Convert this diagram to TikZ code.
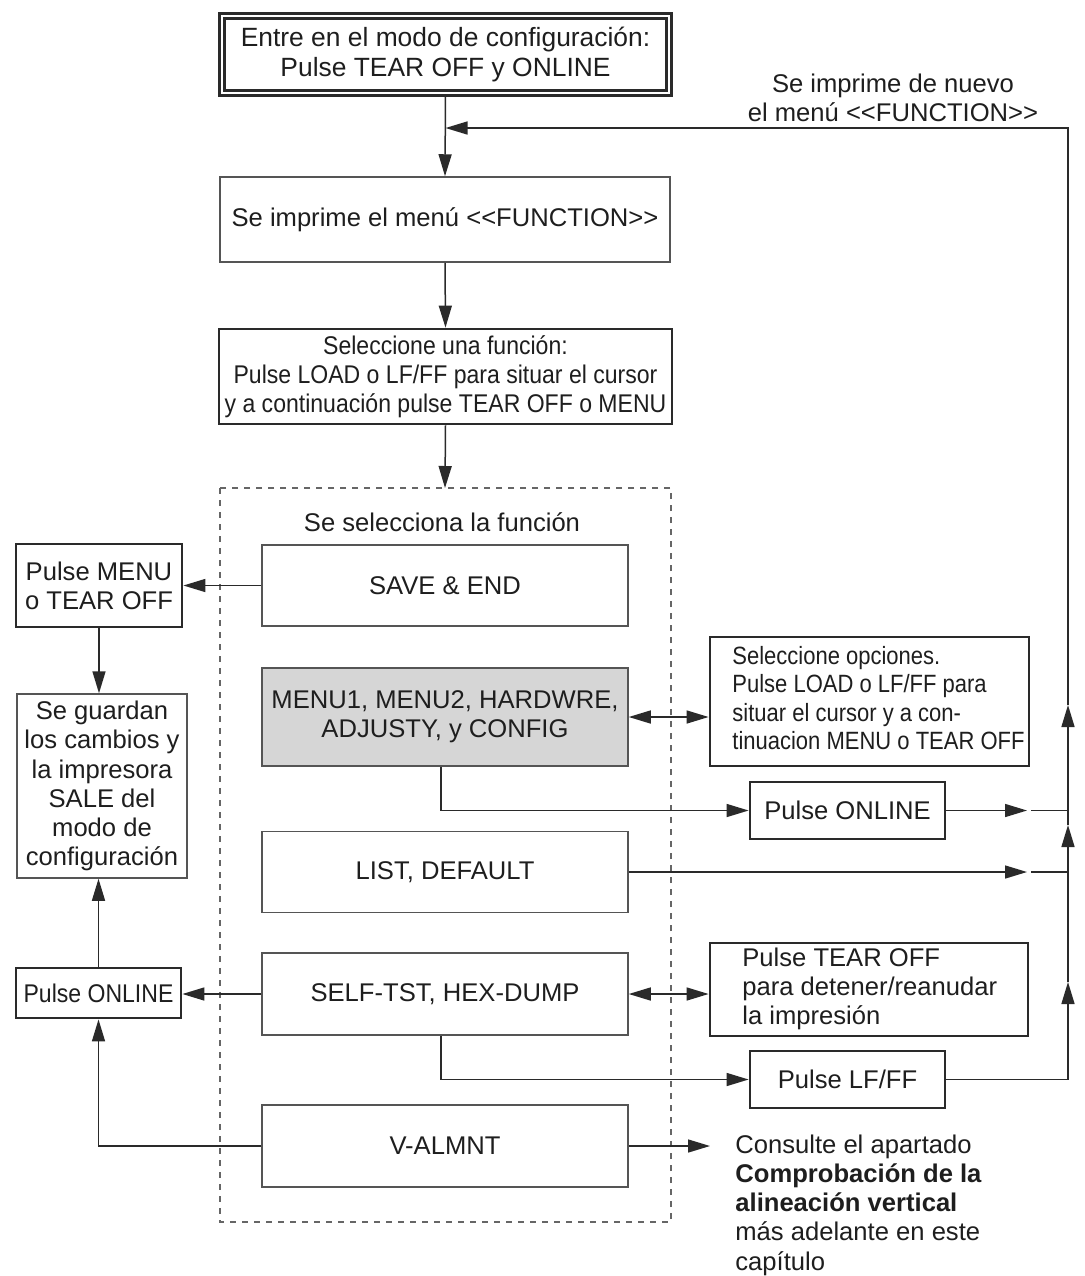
\documentclass[tikz,border=0pt]{standalone}
\usepackage{fontspec}
\setmainfont{Liberation Sans}
\newfontfamily\condfont[FakeStretch=0.88]{Liberation Sans}
\newfontfamily\narrowfont[FakeStretch=0.9]{Liberation Sans}
\usetikzlibrary{arrows.meta}
\definecolor{ink}{HTML}{2A2A2A}
\definecolor{txt}{HTML}{1E1E1E}
\definecolor{boxgray}{HTML}{555555}
\definecolor{dashgray}{HTML}{666666}
\definecolor{fillgray}{HTML}{D6D6D6}
\newcommand{\ltlt}{<\kern0pt<}
\newcommand{\gtgt}{>\kern0pt>}
\begin{document}
\begin{tikzpicture}[x=0.5pt,y=-0.5pt,
  every node/.style={font=\fontsize{12.8}{14.6}\selectfont, text=txt, inner sep=0pt},
  thinbox/.style={draw=boxgray, line width=0.75pt, align=center},
  thickbox/.style={draw=ink, line width=1.4pt, align=center},
  conn/.style={draw=ink, line width=0.75pt},
  arr/.style={conn, -{Triangle[length=11pt,width=6.5pt]}},
  darr/.style={conn, {Triangle[length=11pt,width=6.5pt]}-{Triangle[length=11pt,width=6.5pt]}},
  dashbox/.style={draw=dashgray, line width=0.7pt, dash pattern=on 3pt off 3pt},
  lefttext/.style={align=left, anchor=west}
]
\useasboundingbox[fill=white] (0,0) rectangle (1084,1276);

% main column
\node[draw=ink, double, double distance=1.2pt, line width=1.3pt, align=center,
      minimum width=223.5pt, minimum height=38.5pt, font=\fontsize{13.2}{15}\selectfont] (top) at (445.5,54.5)
      {Entre en el modo de configuración:\\Pulse TEAR OFF y ONLINE};
\node[thinbox, minimum width=225pt, minimum height=42.5pt] (menu) at (445,219.5)
      {Se imprime el menú \ltlt FUNCTION\gtgt};
\node[thickbox, minimum width=226.5pt, minimum height=47.5pt, font=\narrowfont\fontsize{12.8}{14.6}\selectfont] (selfun) at (445.5,376.5)
      {Seleccione una función:\\Pulse LOAD o LF/FF para situar el cursor\\y a continuación pulse TEAR OFF o MENU};

% dashed group
\draw[dashbox] (220,488) rectangle (671,1222);
\coordinate (dtop) at (445,488);
\node (seltxt) at (442,522) {Se selecciona la función};
\node[thinbox, minimum width=183pt, minimum height=40.5pt] (save) at (445,585.5) {SAVE \& END};
\node[thinbox, fill=fillgray, minimum width=183pt, minimum height=49pt] (menus) at (445,717)
      {MENU1, MENU2, HARDWRE,\\ADJUSTY, y CONFIG};
\node[thinbox, minimum width=183pt, minimum height=40.5pt] (list) at (445,872) {LIST, DEFAULT};
\node[thinbox, minimum width=183pt, minimum height=41pt] (self) at (445,994) {SELF-TST, HEX-DUMP};
\node[thinbox, minimum width=183pt, minimum height=41pt] (valm) at (445,1146) {V-ALMNT};

% left column
\node[thickbox, minimum width=83pt, minimum height=41.5pt] (pmenu) at (99,585.5) {Pulse MENU\\o TEAR OFF};
\node[thinbox, minimum width=85pt, minimum height=92pt] (guard) at (102,786)
      {Se guardan\\los cambios y\\la impresora\\SALE del\\modo de\\configuración};
\node[thickbox, minimum width=82.5pt, minimum height=25pt, font=\narrowfont\fontsize{12.8}{14.6}\selectfont] (ponl) at (98.5,993) {Pulse ONLINE};

% right column
\node[thickbox, minimum width=159.5pt, minimum height=64.5pt] (opts) at (869.5,701.5) {};
\node[lefttext, font=\condfont\fontsize{12.5}{14.25}\selectfont] (optstxt) at (732,698)
      {Seleccione opciones.\\Pulse LOAD o LF/FF para\\situar el cursor y a con-\\tinuacion MENU o TEAR OFF};
\node[thickbox, minimum width=97.5pt, minimum height=28.5pt] (pon2) at (847.5,810.5) {Pulse ONLINE};
\node[thickbox, minimum width=159pt, minimum height=46.5pt] (ptear) at (869,989.5) {};
\node[lefttext] (pteartxt) at (742,989)
      {Pulse TEAR OFF\\para detener/reanudar\\la impresión};
\node[thickbox, minimum width=97.5pt, minimum height=28.5pt] (plf) at (847.5,1079.5) {Pulse LF/FF};
\node[lefttext] (consult) at (735,1205)
      {Consulte el apartado\\\textbf{Comprobación de la}\\\textbf{alineación vertical}\\más adelante en este\\capítulo};
\node[align=center] (again) at (893,98) {Se imprime de nuevo\\el menú \ltlt FUNCTION\gtgt};

% helper coordinates
\coordinate (busx) at (1068,0);
\coordinate (gapx) at (1027,0);
\coordinate (ret) at (1068,128);
\coordinate (u1) at (1068,982);
\coordinate (u2) at (1068,825);
\coordinate (u3) at (1068,705);
\coordinate (vtip) at (710,1146);

% main flow
\draw[arr] (top.south) -- (menu.north);
\draw[arr] (menu.south) -- (selfun.north);
\draw[arr] (selfun.south) -- (dtop);

% left side
\draw[arr] (save.west) -- (save.west -| pmenu.east);
\draw[arr] (pmenu.south) -- (pmenu.south |- guard.north);
\draw[arr] (ponl.north) -- (ponl.north |- guard.south);
\draw[arr] (self.west) -- (self.west -| ponl.east);
\draw[arr] (valm.west) -| (ponl.south);

% right side
\draw[darr] (menus.east) -- (menus.east -| opts.west);
\draw[arr] ([xshift=-2pt]menus.south) |- (pon2.west);
\coordinate (g1) at (pon2.east -| gapx);
\draw[arr] (pon2.east) -- (g1);
\draw[conn] ([xshift=2pt]g1) -- (g1 -| busx);
\coordinate (g2) at (list.east -| gapx);
\draw[arr] (list.east) -- (g2);
\draw[conn] ([xshift=2pt]g2) -- (g2 -| busx);
\draw[darr] (self.east) -- (self.east -| ptear.west);
\draw[arr] ([xshift=-2pt]self.south) |- (plf.west);
\draw[arr] (valm.east) -- (vtip);

% return bus
\draw[conn] (plf.east) -- (plf.east -| busx) coordinate (bb);
\draw[arr] (bb) -- (u1);
\draw[arr] (u1) -- (u2);
\draw[arr] (u2) -- (u3);
\draw[arr] (u3) -- (ret) -- (ret -| top.south);
\end{tikzpicture}
\end{document}
